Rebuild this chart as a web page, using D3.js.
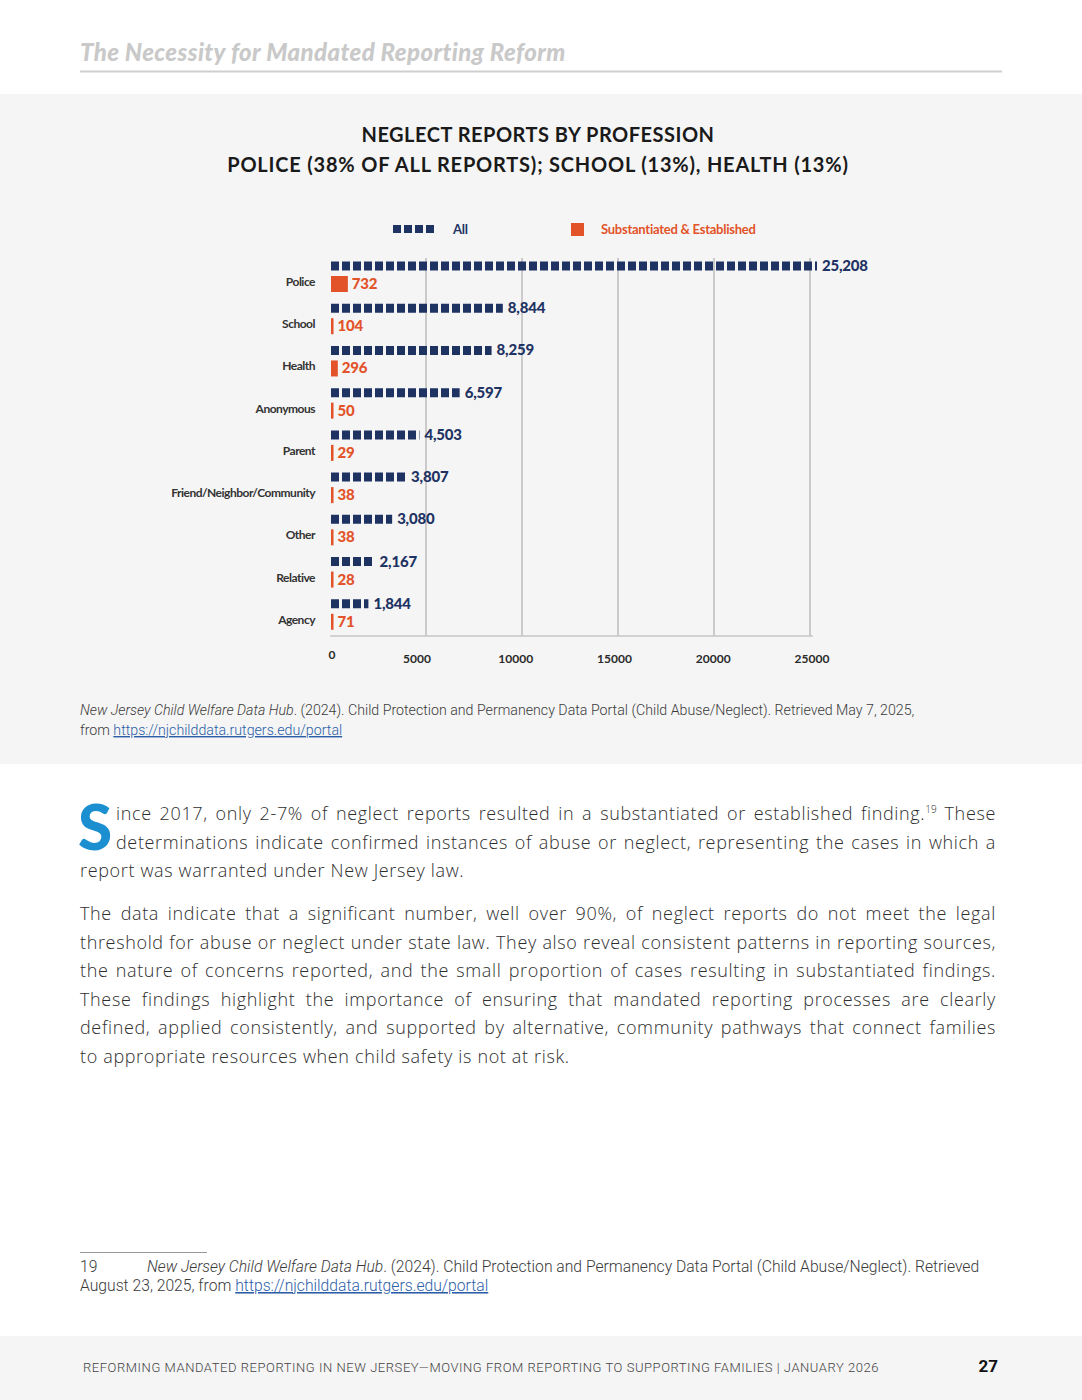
<!DOCTYPE html>
<html>
<head>
<meta charset="utf-8">
<script src="https://cdn.jsdelivr.net/npm/d3@7"></script>
<style>
  body { margin: 0; background: #fff; }
  #page { position: relative; width: 1082px; height: 1400px; overflow: hidden; }
  #page svg { position: absolute; left: 0; top: 0; }
  .para { position: absolute; left: 80px; width: 916px; font-family: "Open Sans", sans-serif; font-weight: 300;
          font-size: 18px; line-height: 28.5px; color: #2e2e2e; letter-spacing: 0.65px; }
  .para div { height: 28.5px; text-align: justify; text-align-last: justify; white-space: nowrap; }
  .para div.last { text-align-last: left; }
  .para div.ind { margin-left: 36px; }
  .sup { font-size: 10px; line-height: 0; position: relative; top: -7px; letter-spacing: 0; }
  #dropcap { position: absolute; left: 78px; top: 795px; font-family: Lato, sans-serif; font-weight: 900;
             font-size: 62px; line-height: 62px; color: #1b8fd0; }
</style>
</head>
<body>
<div id="page"></div>
<script>
// data
const categories = ["Police", "School", "Health", "Anonymous", "Parent",
  "Friend/Neighbor/Community", "Other", "Relative", "Agency"];
const allReports = [25208, 8844, 8259, 6597, 4503, 3807, 3080, 2167, 1844];
const substantiated = [732, 104, 296, 50, 29, 38, 38, 28, 71];
const xTicks = [0, 5000, 10000, 15000, 20000, 25000];
const seriesNames = ["All", "Substantiated & Established"];

const navy = "#1f3363";
const orange = "#e2532a";

const width = 1082;
const height = 1400;

var page = d3.select("#page");
var svg = page.append("svg").attr("width", width).attr("height", height);

// page furniture
svg.append("rect").attr("x", 0).attr("y", 94).attr("width", width).attr("height", 670).attr("fill", "#f5f5f5");
svg.append("rect").attr("x", 0).attr("y", 1336).attr("width", width).attr("height", 64).attr("fill", "#f5f5f5");

svg.append("text").attr("x", 80).attr("y", 61)
    .attr("font-family", "Lato, sans-serif").attr("font-weight", 900).attr("font-style", "italic")
    .attr("font-size", 24).attr("letter-spacing", 0.4).attr("fill", "#c9c9c9")
    .text("The Necessity for Mandated Reporting Reform");
svg.append("line").attr("x1", 80).attr("x2", 1002).attr("y1", 71.5).attr("y2", 71.5)
    .attr("stroke", "#cfcfcf").attr("stroke-width", 2);

// title
var title = svg.append("text").attr("text-anchor", "middle")
    .attr("font-family", "Lato, sans-serif").attr("font-weight", 700)
    .attr("font-size", 20).attr("fill", "#1a1a1a");
title.append("tspan").attr("x", 538).attr("y", 142).attr("letter-spacing", 0.5).text("NEGLECT REPORTS BY PROFESSION");
title.append("tspan").attr("x", 538).attr("y", 172).attr("letter-spacing", 0.8)
    .text("POLICE (38% OF ALL REPORTS); SCHOOL (13%), HEALTH (13%)");

// scales
var x = d3.scaleLinear().domain([0, 25000]).range([330, 810]);
var xLabel = d3.scaleLinear().domain([5000, 25000]).range([417, 812]);
var y = d3.scaleBand().domain(categories).range([256, 636]);

var chart = svg.append("g");

// legend
var legend = chart.append("g").attr("font-family", "Lato, sans-serif").attr("font-size", 13).attr("font-weight", 700);
legend.append("line").attr("x1", 393).attr("x2", 437).attr("y1", 229).attr("y2", 229)
    .attr("stroke", navy).attr("stroke-width", 8).attr("stroke-dasharray", "8,3");
legend.append("text").attr("x", 453).attr("y", 234).attr("fill", navy).attr("letter-spacing", -0.3).text(seriesNames[0]);
legend.append("rect").attr("x", 571).attr("y", 223).attr("width", 13).attr("height", 13).attr("fill", orange);
legend.append("text").attr("x", 601).attr("y", 234).attr("fill", orange).attr("letter-spacing", -0.25).text(seriesNames[1]);

// grid
chart.append("g").selectAll("line").data(xTicks.slice(1)).enter().append("line")
    .attr("x1", d => x(d)).attr("x2", d => x(d))
    .attr("y1", 258).attr("y2", 636)
    .attr("stroke", "#a0a0a0").attr("stroke-width", 1);

chart.append("line").attr("x1", x(0)).attr("x2", x(25000) + 3).attr("y1", 636).attr("y2", 636)
    .attr("stroke", "#c6c6c6").attr("stroke-width", 1.5);

chart.append("g").attr("font-family", "Lato, sans-serif").attr("font-weight", 700).attr("font-size", 12)
    .attr("fill", "#2a2a2a").attr("text-anchor", "middle")
    .selectAll("text").data(xTicks).enter().append("text")
    .attr("x", d => d === 0 ? x(d) + 2 : xLabel(d))
    .attr("y", d => d === 0 ? 659 : 663)
    .text(d => d);

// category labels
chart.append("g").attr("font-family", "Lato, sans-serif").attr("font-weight", 700).attr("font-size", 12)
    .attr("fill", "#333").attr("text-anchor", "end").attr("letter-spacing", -0.5)
    .selectAll("text").data(categories).enter().append("text")
    .attr("x", 315).attr("y", d => y(d) + 30)
    .text(d => d);

var rows = categories.map((c, i) => ({cat: c, all: allReports[i], sub: substantiated[i]}));

// all reports: dashed bars
chart.append("g").selectAll("line").data(rows).enter().append("line")
    .attr("x1", x(0) + 1).attr("x2", d => x(d.all) + 3)
    .attr("y1", d => y(d.cat) + 10).attr("y2", d => y(d.cat) + 10)
    .attr("stroke", navy).attr("stroke-width", 9).attr("stroke-dasharray", "8,3");

chart.append("g").attr("font-family", "Lato, sans-serif").attr("font-weight", 900).attr("font-size", 15)
    .attr("fill", navy).attr("letter-spacing", -0.2)
    .selectAll("text").data(rows).enter().append("text")
    .attr("x", d => x(d.all) + 8).attr("y", d => y(d.cat) + 15)
    .text(d => d3.format(",")(d.all));

// substantiated bars
function subWidth(v) { return Math.max(2.5, (x(v) - x(0)) * 1.2); }
chart.append("g").selectAll("rect").data(rows).enter().append("rect")
    .attr("x", x(0) + 1).attr("y", d => y(d.cat) + 20)
    .attr("width", d => subWidth(d.sub)).attr("height", 16)
    .attr("fill", orange);

chart.append("g").attr("font-family", "Lato, sans-serif").attr("font-weight", 900).attr("font-size", 15)
    .attr("fill", orange).attr("letter-spacing", -0.2)
    .selectAll("text").data(rows).enter().append("text")
    .attr("x", d => x(0) + 1 + subWidth(d.sub) + 4).attr("y", d => y(d.cat) + 33)
    .text(d => d3.format(",")(d.sub));

// source
var src = svg.append("text").attr("font-family", "Roboto, sans-serif").attr("font-weight", 300)
    .attr("font-size", 14.2).attr("fill", "#3a3a3a");
src.append("tspan").attr("x", 80).attr("y", 715).attr("font-style", "italic").text("New Jersey Child Welfare Data Hub");
src.append("tspan").text(". (2024). Child Protection and Permanency Data Portal (Child Abuse/Neglect). Retrieved May 7, 2025,");
var src2 = svg.append("text").attr("font-family", "Roboto, sans-serif").attr("font-weight", 300)
    .attr("font-size", 14.2).attr("fill", "#3a3a3a").attr("x", 80).attr("y", 735);
src2.append("tspan").text("from ");
src2.append("tspan").attr("fill", "#2c5ea8").attr("text-decoration", "underline").text("https://njchilddata.rutgers.edu/portal");

// footnote
svg.append("line").attr("x1", 80).attr("x2", 207).attr("y1", 1252.5).attr("y2", 1252.5)
    .attr("stroke", "#999").attr("stroke-width", 1);
var fn = svg.append("g").attr("font-family", "Roboto, sans-serif").attr("font-weight", 300)
    .attr("font-size", 15.7).attr("fill", "#3a3a3a");
fn.append("text").attr("x", 80).attr("y", 1272).text("19");
var fn1 = fn.append("text").attr("x", 147).attr("y", 1272);
fn1.append("tspan").attr("font-style", "italic").text("New Jersey Child Welfare Data Hub");
fn1.append("tspan").text(". (2024). Child Protection and Permanency Data Portal (Child Abuse/Neglect). Retrieved");
var fn2 = fn.append("text").attr("x", 80).attr("y", 1291);
fn2.append("tspan").text("August 23, 2025, from ");
fn2.append("tspan").attr("fill", "#2c5ea8").attr("text-decoration", "underline").text("https://njchilddata.rutgers.edu/portal");

// footer
svg.append("text").attr("x", 83).attr("y", 1372)
    .attr("font-family", "Roboto, sans-serif").attr("font-weight", 300).attr("font-size", 13)
    .attr("letter-spacing", 0.55).attr("fill", "#444")
    .text("REFORMING MANDATED REPORTING IN NEW JERSEY\u2014MOVING FROM REPORTING TO SUPPORTING FAMILIES | JANUARY 2026");
svg.append("text").attr("x", 998).attr("y", 1372).attr("text-anchor", "end")
    .attr("font-family", "Roboto, sans-serif").attr("font-weight", 700).attr("font-size", 17)
    .attr("fill", "#111").text("27");

// body text
page.append("div").attr("id", "dropcap").text("S");

var p1 = page.append("div").attr("class", "para").style("top", "799px");
p1.append("div").attr("class", "ind")
    .html('ince 2017, only 2-7% of neglect reports resulted in a substantiated or established finding.<span class="sup">19</span> These');
p1.append("div").attr("class", "ind")
    .text("determinations indicate confirmed instances of abuse or neglect, representing the cases in which a");
p1.append("div").attr("class", "last").text("report was warranted under New Jersey law.");

var p2Lines = [
  "The data indicate that a significant number, well over 90%, of neglect reports do not meet the legal",
  "threshold for abuse or neglect under state law. They also reveal consistent patterns in reporting sources,",
  "the nature of concerns reported, and the small proportion of cases resulting in substantiated findings.",
  "These findings highlight the importance of ensuring that mandated reporting processes are clearly",
  "defined, applied consistently, and supported by alternative, community pathways that connect families",
  "to appropriate resources when child safety is not at risk."
];
var p2 = page.append("div").attr("class", "para").style("top", "899px");
p2.selectAll("div").data(p2Lines).enter().append("div")
    .attr("class", (d, i) => i === p2Lines.length - 1 ? "last" : null)
    .text(d => d);
</script>
</body>
</html>
